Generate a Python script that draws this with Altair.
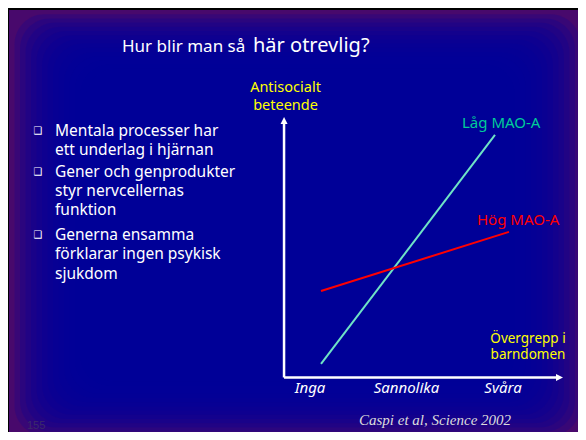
import altair as alt
import pandas as pd

# ---------------- data ----------------
title_part1 = "Hur blir man så"
title_part2 = "här otrevlig?"

bullet_1 = ["Mentala processer har", "ett underlag i hjärnan"]
bullet_2 = ["Gener och genprodukter", "styr nervcellernas", "funktion"]
bullet_3 = ["Generna ensamma", "förklarar ingen psykisk", "sjukdom"]

y_title = ["Antisocialt", "beteende"]
x_title = ["Övergrepp i", "barndomen"]

exposure_labels = ["Inga", "Sannolika", "Svåra"]
exposure_pos = [1, 2, 3]

series = ["Låg MAO-A", "Hög MAO-A"]
series_colors = ["#6fe3c6", "#ff0000"]
label_colors = ["#00cc99", "#ff0000"]
x_start = [1.114, 1.114]
x_end = [2.917, 3.062]
y_start = [0.52, 3.32]
y_end = [9.31, 5.59]

axis_origin_x = 0.731
axis_x_tip = 3.622
axis_y_tip = 10.0

citation = "Caspi et al, Science 2002"
page_number = "155"

# ---------------- tables ----------------
lines_df = pd.DataFrame({
    "series": series + series,
    "x": x_start + x_end,
    "y": y_start + y_end,
})
ticks_df = pd.DataFrame({"label": exposure_labels, "x": exposure_pos})
one = pd.DataFrame({"a": [0]})

W, H = 570, 424
# 96.5 px per exposure step, exposure 0 at 205.5px
xs = alt.Scale(domain=[-205.5 / 96.5, (W - 205.5) / 96.5], nice=False, zero=False)
# 26.05 px per unit, baseline at 369.5px
ys = alt.Scale(domain=[(369.5 - H) / 26.05, 369.5 / 26.05], nice=False, zero=False)

FONT = "Noto Sans"

layers = []

def text_layer(txt, x, y, **kw):
    return alt.Chart(one).mark_text(text=txt, **kw).encode(x=alt.value(x), y=alt.value(y))

# background: purple base with stacked translucent blue insets (soft rectangular gradient)
FULL_W, FULL_H = 578, 432
layers.append(
    alt.Chart(one).mark_rect(color="#48096c").encode(
        x=alt.value(1), x2=alt.value(FULL_W), y=alt.value(2), y2=alt.value(FULL_H)
    )
)
n_steps = 14
for i in range(1, n_steps + 1):
    layers.append(
        alt.Chart(one).mark_rect(color="#000099", opacity=0.22, cornerRadius=30).encode(
            x=alt.value(1 + i * 5.5), x2=alt.value(FULL_W - i * 5.5),
            y=alt.value(2 + i * 4.2), y2=alt.value(FULL_H - i * 4.2),
        )
    )

# axes with arrows (drawn in data units)
layers.append(
    alt.Chart(one).mark_rule(color="white", strokeWidth=2.5).encode(
        x=alt.XDatum(axis_origin_x, scale=xs, axis=None),
        y=alt.YDatum(0, scale=ys, axis=None),
        y2=alt.Y2Datum(axis_y_tip - 0.2),
    )
)
layers.append(
    alt.Chart(one).mark_rule(color="white", strokeWidth=2.5).encode(
        x=alt.XDatum(axis_origin_x, scale=xs, axis=None),
        x2=alt.X2Datum(axis_x_tip - 0.05),
        y=alt.YDatum(0, scale=ys, axis=None),
    )
)
layers.append(
    alt.Chart(one).mark_point(
        shape="M0,0L-0.7,1.4L0.7,1.4Z", size=100, filled=True, color="white", opacity=1
    ).encode(
        x=alt.XDatum(axis_origin_x, scale=xs, axis=None),
        y=alt.YDatum(axis_y_tip, scale=ys, axis=None),
    )
)
layers.append(
    alt.Chart(one).mark_point(
        shape="M0,0L-1.4,-0.7L-1.4,0.7Z", size=100, filled=True, color="white", opacity=1
    ).encode(
        x=alt.XDatum(axis_x_tip, scale=xs, axis=None),
        y=alt.YDatum(0, scale=ys, axis=None),
    )
)

# the two lines
layers.append(
    alt.Chart(lines_df).mark_line(strokeWidth=2).encode(
        x=alt.X("x:Q", scale=xs, axis=None),
        y=alt.Y("y:Q", scale=ys, axis=None),
        color=alt.Color("series:N", scale=alt.Scale(domain=series, range=series_colors), legend=None),
        detail="series:N",
    )
)

# line labels anchored at line ends
for k, (dx, dy) in enumerate([(-33, -6.7), (-32, -7)]):
    layers.append(
        alt.Chart(one).mark_text(
            text=series[k], font=FONT, fontSize=15, color=label_colors[k], align="left",
            baseline="alphabetic", dx=dx, dy=dy,
        ).encode(
            x=alt.XDatum(x_end[k], scale=xs, axis=None),
            y=alt.YDatum(y_end[k], scale=ys, axis=None),
        )
    )

# x tick labels
layers.append(
    alt.Chart(ticks_df).mark_text(
        font=FONT, fontSize=15, fontStyle="italic", color="white", align="center", baseline="alphabetic",
    ).encode(x=alt.X("x:Q", scale=xs, axis=None), y=alt.value(385), text="label:N")
)

# axis titles
for j, s in enumerate(y_title):
    layers.append(text_layer(s, 277.5, 83.7 + j * 18.3, font=FONT, fontSize=14.5, color="#ffff00",
                             align="center", baseline="alphabetic"))
for j, s in enumerate(x_title):
    layers.append(text_layer(s, 520, 334.7 + j * 16.6, font=FONT, fontSize=13.5, color="#ffff00",
                             align="center", baseline="alphabetic"))

# slide title
layers.append(text_layer(title_part1, 114, 44, font=FONT, fontSize=17, color="white",
                         align="left", baseline="alphabetic"))
layers.append(text_layer(title_part2, 245, 44, font=FONT, fontSize=20, color="white",
                         align="left", baseline="alphabetic"))

# bullets
for lines_text, base_y in [(bullet_1, 127.7), (bullet_2, 168.7), (bullet_3, 232)]:
    for j, s in enumerate(lines_text):
        layers.append(text_layer(s, 47, base_y + j * 19.3, font=FONT, fontSize=15.5, color="white",
                                 align="left", baseline="alphabetic"))
    layers.append(text_layer("❑", 30, base_y - 5, font="DejaVu Sans", fontSize=10, color="white",
                             align="center", baseline="middle"))

layers.append(text_layer(citation, 351, 417, font="Liberation Serif", fontSize=15, fontStyle="italic",
                         color="#dcdcdc", align="left", baseline="alphabetic"))
layers.append(text_layer(page_number, 19, 421, font="Liberation Sans", fontSize=11, color="#3b2a6b",
                         align="left", baseline="alphabetic"))

chart = alt.layer(*layers).properties(
    width=W, height=H, background="black", padding=0, autosize="none",
).configure_view(strokeWidth=0)

chart.save("out.html", embed_options={"renderer": "svg", "actions": False})
